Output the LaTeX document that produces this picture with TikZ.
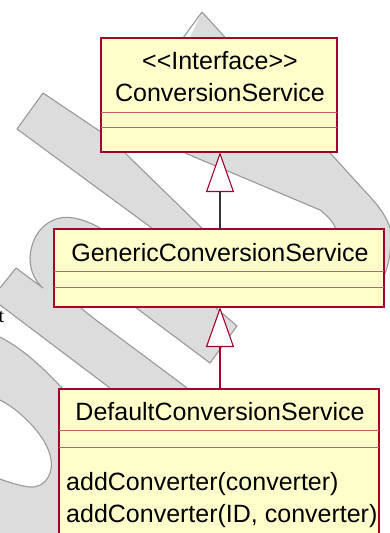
\documentclass[tikz,border=0pt]{standalone}
\usepackage{fontspec}
\setmainfont{Liberation Sans}
\newfontfamily\serifface{Liberation Serif}
\usetikzlibrary{arrows.meta}

\definecolor{umlfill}{HTML}{FFFFCC}
\definecolor{umlred}{HTML}{A5002E}
\definecolor{umldiv}{HTML}{C85A70}
\definecolor{wmfill}{HTML}{DCDCDC}
\definecolor{wmline}{HTML}{999999}

\tikzset{
  wmshape/.style={fill=wmfill, draw=none},
  wmhole/.style={fill=white, draw=none},
  wmedge/.style={draw=wmline, line width=1.1pt, line join=round},
  umlbox/.style={draw=umlred, fill=umlfill, line width=1.2pt, inner sep=0pt, outer sep=0pt, anchor=north west},
  divline/.style={draw=umldiv, line width=0.9pt},
  umltext/.style={inner sep=0pt, font=\fontsize{25}{30}\selectfont, anchor=base},
  gentip/.style={-{Triangle[length=40pt, width=28pt, fill=white, color=umlred]}, line width=1.1pt},
}

\begin{document}
\begin{tikzpicture}[x=1pt, y=-1pt]
\useasboundingbox (0,0) rectangle (389,533);

% ---- grey background emblem ----
% blade from the top tip
\path[wmshape] (202,12) -- (362,188) .. controls (378,205) and (386,215) .. (390,228)
  .. controls (392,245) and (390,262) .. (384,276) -- (336,229)
  .. controls (333,222) and (328,216) .. (320,210) -- (185,153) -- (160,100) -- cycle;
% long bar on the left
\path[wmshape] (43,93) -- (110,138) -- (125,153) -- (203,229) -- (200,240) -- (160,240)
  -- (153,229) -- (130,212) -- (17,129) -- cycle;
% hook and lower body
\path[wmshape] (100,228) .. controls (90,222) and (72,215) .. (60,218)
  .. controls (42,222) and (31,238) .. (30,258) .. controls (30,272) and (36,282) .. (43,288)
  -- (16,268) -- (0,288) -- (-5,292) -- (-5,545) -- (200,545) -- (200,400) -- (187,388)
  .. controls (110,330) and (92,318) .. (80,307) -- (80,290) -- (110,240) -- cycle;
% short bar ending below the middle class
\path[wmshape] (135,307) -- (210,363) -- (237,326) -- (215,307) -- (215,298) -- (135,298) -- cycle;
% white openings
\path[wmhole] (-5,302) -- (0,305) -- (110,388) -- (115,398) -- (60,398) -- (63,389)
  .. controls (45,370) and (25,350) .. (0,337) -- (-5,334) -- cycle;
\path[wmhole] (-5,398) -- (0,400) .. controls (20,410) and (45,435) .. (50,455)
  .. controls (55,472) and (46,488) .. (30,487) .. controls (20,486) and (8,482) .. (0,479) -- (-5,478) -- cycle;

% outlines
\draw[wmedge] (183,38) -- (202,12) -- (362,188) .. controls (378,205) and (386,215) .. (390,228)
  .. controls (392,245) and (390,262) .. (384,276);
\draw[wmedge] (185,153) -- (320,210) .. controls (328,216) and (333,222) .. (336,229);
\draw[wmedge] (110,138) -- (43,93) -- (17,129) -- (130,212) -- (153,229);
\draw[wmedge] (125,153) -- (203,229);
\draw[wmedge] (100,228) .. controls (90,222) and (72,215) .. (60,218)
  .. controls (42,222) and (31,238) .. (30,258) .. controls (30,272) and (36,282) .. (43,288)
  -- (16,268) -- (0,288);
\draw[wmedge] (80,307) .. controls (92,318) and (110,330) .. (187,388);
\draw[wmedge] (135,307) -- (210,363) -- (237,326) -- (215,307);
\draw[wmedge] (0,305) -- (110,388);
\draw[wmedge] (0,337) .. controls (25,350) and (45,370) .. (63,389);
\draw[wmedge] (0,400) .. controls (20,410) and (45,435) .. (50,455)
  .. controls (55,472) and (46,488) .. (30,487) .. controls (20,486) and (8,482) .. (0,479);

% stray letter at the left margin
\node[inner sep=0pt, anchor=base east, font=\serifface\fontsize{20}{24}\selectfont] (stray) at (4.5,322) {t};

% ---- classes ----
\node[umlbox, minimum width=236pt, minimum height=114pt] (cs) at (101,38) {};
\node[umlbox, minimum width=330pt, minimum height=78pt] (gcs) at (54,229) {};
\node[umlbox, minimum width=320pt, minimum height=160pt] (dcs) at (59,389) {};

\draw[divline] (cs.west |- 0,112) -- (cs.east |- 0,112);
\draw[divline] (cs.west |- 0,127) -- (cs.east |- 0,127);
\draw[divline] (gcs.west |- 0,271) -- (gcs.east |- 0,271);
\draw[divline] (gcs.west |- 0,287) -- (gcs.east |- 0,287);
\draw[divline] (dcs.west |- 0,430) -- (dcs.east |- 0,430);
\draw[divline] (dcs.west |- 0,447) -- (dcs.east |- 0,447);

\node[umltext] (csstereo) at (220,69) {<{}<Interface>{}>};
\node[umltext] (csname) at (220,101) {ConversionService};
\node[umltext] (gcsname) at (220,261) {GenericConversionService};
\node[umltext] (dcsname) at (220,420) {DefaultConversionService};
\node[umltext, anchor=base west] (op1) at (66,490) {addConverter(converter)};
\node[umltext, anchor=base west] (op2) at (66,522) {addConverter(ID, converter)};

% ---- generalisations ----
\draw[gentip, draw=black!80] (gcs.north -| 220,0) -- (cs.south -| 220,0);
\draw[gentip, draw=umlred] (dcs.north -| 220,0) -- (gcs.south -| 220,0);
\end{tikzpicture}
\end{document}
